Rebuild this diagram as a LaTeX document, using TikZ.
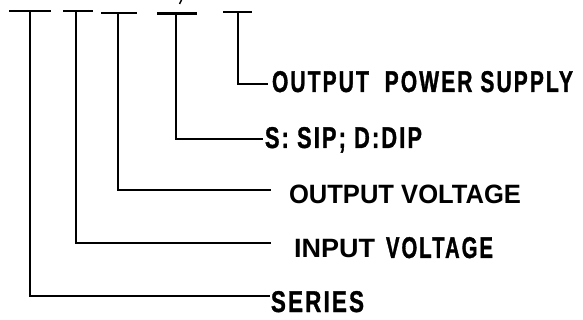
\documentclass[tikz,border=0pt]{standalone}
\usepackage{fontspec}
\usepackage{graphicx}
\newfontfamily\wfont{Liberation Sans Bold}
\newfontfamily\nfont[FakeStretch=0.8,LetterSpace=8,FakeBold=1.2]{Liberation Sans Bold}
\newcommand\fitw[2]{\setbox0\hbox{#2}\pgfmathsetmacro\fitf{#1/\the\wd0}\scalebox{\fitf}[1]{\box0}}
\newcommand\nf{\nfont\fontsize{30}{30}\selectfont}
\tikzset{
  bar/.style={line width=2.6pt},
  lead/.style={line width=1.9pt},
  lbl/.style={anchor=base west,inner sep=0pt,outer sep=0pt,font=\fontsize{26.5}{26.5}\selectfont}
}
\begin{document}
\begin{tikzpicture}[x=1pt,y=-1pt]
\useasboundingbox (0,0) rectangle (583,320);
% T bars
\coordinate (b1l) at (9,11);  \coordinate (b1r) at (51,11);  \coordinate (t1) at (30,11);
\coordinate (b2l) at (63,11); \coordinate (b2r) at (93,11);  \coordinate (t2) at (76,11);
\coordinate (b3l) at (101,13);\coordinate (b3r) at (137,13); \coordinate (t3) at (118,13);
\coordinate (b4l) at (157,14);\coordinate (b4r) at (197,14); \coordinate (t4) at (176,14);
\coordinate (b5l) at (223,12);\coordinate (b5r) at (252,12); \coordinate (t5) at (238,12);
\draw[bar] (b1l) -- (b1r);
\draw[bar] (b2l) -- (b2r);
\draw[bar] (b3l) -- (b3r);
\draw[bar,line width=3pt] (b4l) -- (b4r);
\draw[bar,line width=2.3pt] (b5l) -- (b5r);
\coordinate (s1) at (181.5,0); \coordinate (s2) at (179.5,4);
\draw[line width=1.5pt] (s1) -- (s2);
% labels
\node[lbl] (ops) at (272,92) {\fitw{301pt}{\nf OUTPUT\ \ POWER SUPPLY}};
\node[lbl] (sip) at (265,148) {\fitw{157pt}{\nf S: SIP; D:DIP}};
\node[lbl] (ov)  at (289,204) {\fitw{232pt}{\wfont OUTPUT VOLTAGE}};
\node[lbl] (iv)  at (294,258) {\fitw{81pt}{\wfont INPUT}\hspace{11pt}\fitw{107pt}{\nf VOLTAGE}};
\node[lbl] (ser) at (271,312) {\fitw{93pt}{\nf SERIES}};
% elbow ends
\coordinate (e1) at (270,296);
\coordinate (e2) at (271,243);
\coordinate (e3) at (271,190);
\coordinate (e4) at (263,139);
\coordinate (e5) at (268,84);
\draw[lead] (t1) |- (e1);
\draw[lead] (t2) |- (e2);
\draw[lead] (t3) |- (e3);
\draw[lead] (t4) |- (e4);
\draw[lead] (t5) |- (e5);
\end{tikzpicture}
\end{document}
